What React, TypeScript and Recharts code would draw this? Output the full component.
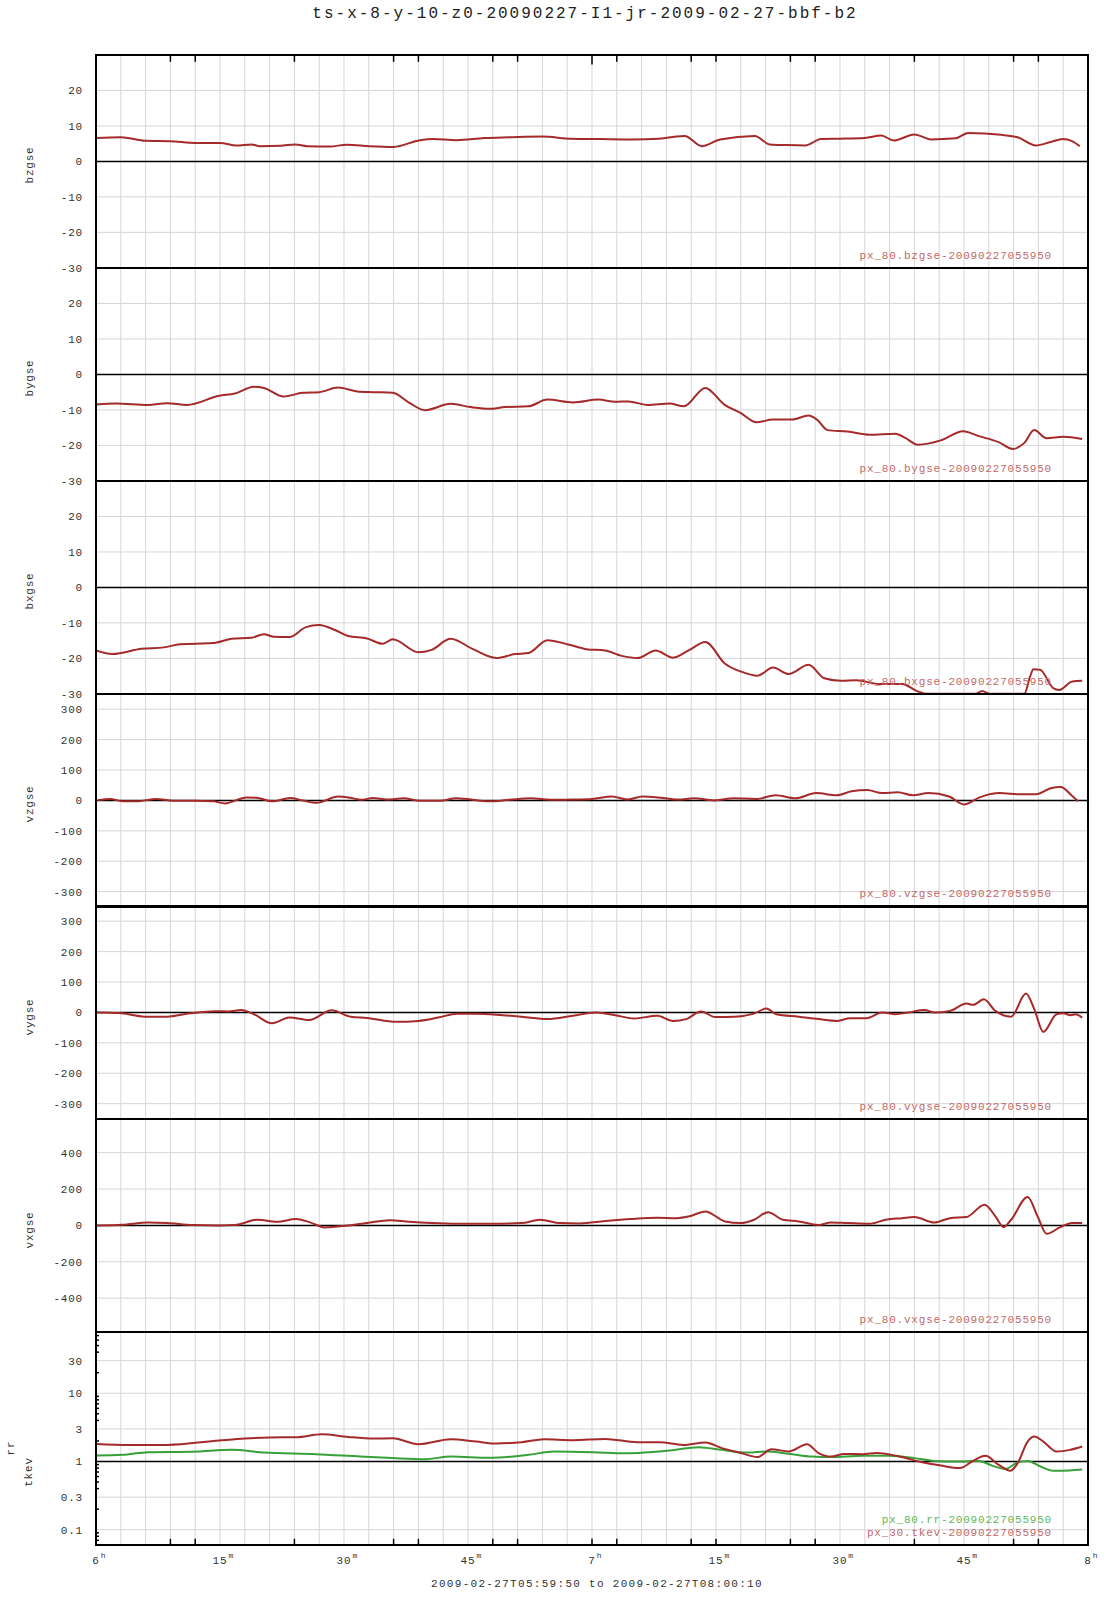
import { CartesianGrid, Line, LineChart, ReferenceLine, XAxis, YAxis } from "recharts";

const W = 1107;
const LEFT = 96;
const RIGHT = 1088;
const TOP = 55;
const BOTTOM = 1545;
const PANEL_H = (BOTTOM - TOP) / 7;
const PAD = 10;
const MONO = '"Liberation Mono", "DejaVu Sans Mono", monospace';
const RED = "#a52a2a";
const GREEN = "#38a038";
const RED_TXT = "#c06a6a";
const GREEN_TXT = "#5cb85c";
const GRID = "#d6d6d6";

// minutes after 06:00
const gridMinutes = Array.from({ length: 41 }, (_, i) => i * 3);
const edgeMinutes = [9, 12, 24, 36, 39, 48, 51, 60, 63, 72, 75, 84, 87, 99, 111, 114];
const timeLabels = [
  { m: 0, main: "6", sup: "h" },
  { m: 15, main: "15", sup: "m" },
  { m: 30, main: "30", sup: "m" },
  { m: 45, main: "45", sup: "m" },
  { m: 60, main: "7", sup: "h" },
  { m: 75, main: "15", sup: "m" },
  { m: 90, main: "30", sup: "m" },
  { m: 105, main: "45", sup: "m" },
  { m: 120, main: "8", sup: "h" },
];

const bzT = [0, 3, 6, 9, 12, 15, 17, 18.8, 19.8, 22.3, 24.1, 25.5, 28.3, 30.3, 33.1, 36, 39.2, 40.8, 43.6, 47, 50, 54, 57.5, 61, 65, 68, 69.8, 71.2, 73.3, 75.5, 79.7, 81.5, 83.5, 85.8, 87.7, 90, 93, 95, 96.5, 99, 101, 104, 105.5, 109.5, 111.5, 113.7, 115.5, 117, 118, 119];
const bzV = [6.6, 6.8, 5.8, 5.7, 5.2, 5.2, 4.5, 4.8, 4.3, 4.4, 4.8, 4.3, 4.2, 4.7, 4.3, 4.1, 6.0, 6.3, 6.0, 6.6, 6.8, 7.0, 6.4, 6.3, 6.2, 6.4, 6.9, 7.2, 4.3, 6.2, 7.2, 4.8, 4.6, 4.5, 6.3, 6.4, 6.6, 7.3, 5.9, 7.6, 6.2, 6.5, 8.0, 7.5, 6.8, 4.5, 5.5, 6.3, 5.8, 4.3];

const byT = [0, 2.4, 6.3, 8.6, 11, 14.9, 16.8, 19.1, 20.3, 22.7, 25, 27, 29.3, 31.6, 33.6, 35.9, 37.9, 39.8, 42.9, 45.3, 47.6, 49.5, 52.3, 54.6, 57.7, 60.8, 62.8, 64.4, 66.7, 69.4, 71.1, 73.7, 76, 78, 79.9, 81.9, 84.2, 86.2, 87.2, 88.5, 90.9, 93.6, 96.7, 97.9, 99.4, 102.2, 104.9, 106.8, 109.2, 110.9, 112.3, 113.5, 115, 117, 119.3];
const byV = [-8.5, -8.2, -8.6, -8.1, -8.6, -6.0, -5.4, -3.5, -3.8, -6.2, -5.2, -5.0, -3.7, -4.8, -5.0, -5.2, -8.0, -10.1, -8.3, -9.2, -9.7, -9.2, -9.0, -7.1, -7.9, -7.1, -7.7, -7.6, -8.6, -8.2, -9.0, -3.8, -8.5, -10.9, -13.5, -12.7, -12.7, -11.6, -12.7, -15.7, -16.1, -17.0, -16.7, -17.9, -19.8, -18.6, -16.0, -17.4, -19.1, -21.0, -19.3, -15.7, -18.0, -17.6, -18.2];

const bxT = [0, 2, 5.5, 8.2, 10.2, 14.1, 16.4, 18.8, 20.3, 21.5, 23.4, 25.4, 27, 28.9, 30.5, 32.8, 34.7, 35.9, 39, 40.6, 42.9, 45.6, 48.4, 50.7, 52.3, 54.6, 57, 59.3, 61.6, 63.6, 65.5, 67.7, 69.8, 71.8, 73.7, 76.1, 78, 80, 81.9, 83.8, 86.2, 88.1, 90.1, 92, 94.7, 97.5, 99.4, 100.6, 104, 106.4, 107.2, 108.1, 112.3, 113, 113.4, 114.2, 115.8, 116.5, 118.1, 119.3];
const bxV = [-17.8, -18.8, -17.3, -16.9, -16.0, -15.7, -14.5, -14.2, -13.2, -13.9, -14.0, -11.2, -10.6, -12.0, -13.7, -14.4, -15.9, -14.6, -18.3, -17.6, -14.5, -17.4, -19.9, -18.8, -18.5, -14.9, -16.0, -17.4, -17.8, -19.3, -19.9, -17.8, -19.8, -17.6, -15.4, -21.5, -23.7, -24.9, -22.6, -24.4, -21.8, -25.6, -26.3, -26.2, -27.2, -27.2, -29.3, -30, -30, -30, -29.2, -30, -30, -25.1, -23.1, -23.2, -28.4, -28.9, -26.5, -26.3];

const vzT = [0.2, 1.7, 3.3, 4.9, 7.3, 9.3, 11.8, 14.2, 15.6, 18.2, 19.4, 21.3, 23.5, 25, 26.7, 29.3, 30.7, 32.1, 33.5, 35.2, 37.2, 39.2, 41.6, 43.6, 47.6, 50, 52.6, 55, 57.5, 60, 62.4, 64.3, 66.1, 68.6, 70.5, 72.3, 74.8, 77.2, 80, 82.2, 84.6, 87.1, 89.6, 91.4, 93.3, 95.1, 97, 98.8, 100.7, 103.2, 105, 106.9, 109.3, 111.8, 113.7, 115.5, 116.7, 118, 118.8];
const vzV = [1, 5, -3, -3, 5, -1, -1, -3, -10, 10, 9, -3, 8, 0, -8, 13, 9, 2, 8, 3, 7, -1, -1, 7, -3, 2, 7, 2, 3, 5, 13, 3, 13, 8, 3, 7, 0, 7, 5, 17, 7, 24, 17, 30, 34, 24, 27, 17, 24, 13, -13, 10, 24, 20, 20, 40, 44, 17, -3];

const vyT = [0, 2.8, 5.9, 8.6, 11.4, 14.5, 16, 17.6, 19.1, 21.3, 23.4, 25.8, 28.5, 30.8, 32.8, 36.3, 39, 41.4, 43.7, 46, 49.2, 51.5, 54.6, 57.7, 60.5, 62.8, 65.1, 67.9, 69.8, 71.4, 73.2, 74.9, 77.2, 79.6, 81.1, 82.3, 85, 87.4, 89.7, 91.2, 93.2, 95.1, 96.7, 98.3, 100.2, 101.4, 103.3, 105.3, 106.1, 107.4, 108.8, 110.7, 112.5, 113.5, 114.6, 116.2, 117, 117.9, 118.5, 119.3];
const vyV = [0, -2, -14, -14, -3, 4, 3, 8, -6, -36, -17, -25, 7, -14, -18, -31, -28, -17, -4, -4, -9, -14, -22, -11, 0, -9, -20, -11, -28, -22, 3, -15, -14, -4, 13, -6, -14, -22, -28, -19, -19, 0, -6, 0, 8, 0, 5, 29, 25, 43, 5, -14, 62, 11, -64, -6, -3, -9, -6, -17];

const vxT = [0, 3.2, 6.3, 8.6, 11.7, 14.9, 16.8, 19.5, 21.9, 24.2, 25.8, 27.7, 30.5, 32.8, 35.5, 37.9, 40.6, 43.7, 47.6, 51.5, 53.7, 56.2, 58.5, 61.6, 64.7, 67.9, 70.2, 71.8, 73.7, 76.1, 78, 79.6, 81.3, 83.1, 85, 87.4, 88.9, 90.9, 93.6, 95.5, 97.5, 99, 101.4, 103.3, 105.3, 107.5, 108.8, 109.8, 110.7, 112.7, 113.9, 115, 116.6, 118.1, 119.3];
const vxV = [0, 4, 16, 13, 2, 0, 2, 31, 20, 35, 18, -11, 0, 13, 29, 20, 13, 9, 9, 13, 31, 13, 11, 24, 35, 42, 40, 50, 77, 22, 13, 31, 73, 31, 22, 2, 16, 13, 9, 31, 40, 46, 16, 40, 46, 114, 50, -9, 31, 156, 50, -46, -11, 13, 13];

const tkT = [0, 4, 8.6, 14.9, 18, 22.7, 24.2, 27.3, 30.5, 33.6, 35.9, 39, 42.9, 46, 48.4, 51.5, 54.2, 57.7, 61.6, 65.5, 68.2, 71, 73.7, 75.7, 78, 80, 81.7, 83.8, 86, 87.4, 88.9, 90.5, 92.8, 94.4, 97.5, 99.8, 102.2, 104.5, 106.1, 107.6, 109.2, 110.6, 111.5, 112.7, 113.5, 114.6, 116.2, 117.8, 119.3];
const tkV = [1.81, 1.75, 1.75, 2.03, 2.17, 2.27, 2.27, 2.51, 2.29, 2.17, 2.19, 1.79, 2.12, 1.96, 1.83, 1.92, 2.12, 2.05, 2.14, 1.92, 1.92, 1.75, 1.9, 1.57, 1.33, 1.16, 1.51, 1.4, 1.79, 1.33, 1.18, 1.29, 1.28, 1.33, 1.16, 0.98, 0.87, 0.8, 1.02, 1.21, 0.89, 0.73, 0.95, 1.96, 2.32, 1.96, 1.4, 1.48, 1.66];

const rrT = [0, 3.2, 6.3, 11.7, 16.4, 20.3, 26.6, 32, 35.9, 39.8, 42.9, 47.6, 52.3, 55.4, 60.1, 64, 69.4, 72.9, 75.7, 78.8, 81.1, 83.8, 86.6, 88.9, 92.8, 95.9, 99, 101.4, 104.5, 106.8, 108.4, 110, 111.5, 112.7, 114.2, 115.8, 117.8, 119.3];
const rrV = [1.22, 1.25, 1.37, 1.39, 1.48, 1.35, 1.28, 1.18, 1.12, 1.08, 1.18, 1.13, 1.25, 1.4, 1.37, 1.32, 1.45, 1.62, 1.48, 1.35, 1.4, 1.3, 1.18, 1.16, 1.21, 1.21, 1.12, 1.02, 1.0, 1.02, 0.87, 0.78, 0.97, 1.02, 0.85, 0.73, 0.74, 0.76];

const logMajor = [0.1, 0.3, 1, 3, 10, 30];
const logMinor = [0.07, 0.08, 0.09, 0.2, 0.4, 0.5, 0.6, 0.7, 0.8, 0.9, 2, 4, 5, 6, 7, 8, 9, 20, 40, 50, 60, 70];

const toRows = (t: number[], v: number[]) => t.map((x, i) => ({ t: x, v: v[i] }));

type Series = { t: number[]; v: number[]; color: string };
type Panel = {
  labels: string[];
  domain: [number, number];
  ticks: number[];
  zero: number;
  log?: boolean;
  series: Series[];
  legends: { text: string; color: string }[];
};

const panels: Panel[] = [
  { labels: ["bzgse"], domain: [-30, 30], ticks: [-30, -20, -10, 0, 10, 20], zero: 0, series: [{ t: bzT, v: bzV, color: RED }], legends: [{ text: "px_80.bzgse-20090227055950", color: RED_TXT }] },
  { labels: ["bygse"], domain: [-30, 30], ticks: [-30, -20, -10, 0, 10, 20], zero: 0, series: [{ t: byT, v: byV, color: RED }], legends: [{ text: "px_80.bygse-20090227055950", color: RED_TXT }] },
  { labels: ["bxgse"], domain: [-30, 30], ticks: [-30, -20, -10, 0, 10, 20], zero: 0, series: [{ t: bxT, v: bxV, color: RED }], legends: [{ text: "px_80.bxgse-20090227055950", color: RED_TXT }] },
  { labels: ["vzgse"], domain: [-350, 350], ticks: [-300, -200, -100, 0, 100, 200, 300], zero: 0, series: [{ t: vzT, v: vzV, color: RED }], legends: [{ text: "px_80.vzgse-20090227055950", color: RED_TXT }] },
  { labels: ["vygse"], domain: [-350, 350], ticks: [-300, -200, -100, 0, 100, 200, 300], zero: 0, series: [{ t: vyT, v: vyV, color: RED }], legends: [{ text: "px_80.vygse-20090227055950", color: RED_TXT }] },
  { labels: ["vxgse"], domain: [-585, 585], ticks: [-400, -200, 0, 200, 400], zero: 0, series: [{ t: vxT, v: vxV, color: RED }], legends: [{ text: "px_80.vxgse-20090227055950", color: RED_TXT }] },
  {
    labels: ["rr", "tkev"], domain: [0.06, 79], ticks: logMajor, zero: 1, log: true,
    series: [{ t: rrT, v: rrV, color: GREEN }, { t: tkT, v: tkV, color: RED }],
    legends: [{ text: "px_80.rr-20090227055950", color: GREEN_TXT }, { text: "px_30.tkev-20090227055950", color: RED_TXT }],
  },
];

const tickStyle = { fontFamily: MONO, fontSize: 11, fill: "#333", letterSpacing: 0.8 };

// bottom time labels plus the short marks along the bottom edge
function TimeTick(props: any) {
  const { x, payload } = props;
  const base = PAD + PANEL_H;
  const lab = timeLabels.find((l) => l.m === payload.value);
  const mark = edgeMinutes.includes(payload.value);
  const half = lab ? (lab.main.length * 7.4) / 2 : 0;
  return (
    <g>
      {mark && <line x1={x} x2={x} y1={base - 6} y2={base} stroke="#000" strokeWidth={1.5} />}
      {lab && <text x={x} y={base + 19} textAnchor="middle" {...tickStyle}>{lab.main}</text>}
      {lab && <text x={x + half + 1} y={base + 13} fontFamily={MONO} fontSize={8} fill="#333">{lab.sup}</text>}
    </g>
  );
}

function NoTick() {
  return <g />;
}

function LogTick(props: any) {
  const { x, y, payload } = props;
  if (logMajor.includes(payload.value)) {
    return <text x={x} y={y} dy={4} textAnchor="end" {...tickStyle}>{payload.value}</text>;
  }
  return <line x1={LEFT} x2={LEFT + 3} y1={y} y2={y} stroke="#000" strokeWidth={1.5} />;
}

function PanelChart({ p, last, first }: { p: Panel; last: boolean; first: boolean }) {
  const extra = last ? 40 : 0;
  const [lo, hi] = p.domain;
  return (
    <LineChart width={W} height={PANEL_H + 2 * PAD + extra} margin={{ top: PAD, right: W - RIGHT, bottom: PAD, left: LEFT - 60 }}>
      <CartesianGrid stroke={GRID} horizontal={!p.log} />
      <XAxis
        dataKey="t"
        type="number"
        domain={[0, 120]}
        allowDataOverflow
        ticks={gridMinutes}
        interval={0}
        height={extra}
        axisLine={false}
        tickLine={false}
        tick={last ? <TimeTick /> : <NoTick />}
      />
      <YAxis
        type="number"
        width={60}
        domain={p.domain}
        allowDataOverflow
        scale={p.log ? "log" : "auto"}
        ticks={p.log ? [...logMajor, ...logMinor] : p.ticks}
        interval={0}
        axisLine={false}
        tickLine={false}
        tickMargin={7}
        tick={p.log ? <LogTick /> : tickStyle}
      />
      {p.log && (
        <YAxis yAxisId="minorR" orientation="right" type="number" width={0} domain={p.domain} allowDataOverflow scale="log"
          ticks={[...logMajor, ...logMinor]} interval={0} mirror tick={false} axisLine={false} tickSize={3}
          tickLine={{ stroke: "#000", strokeWidth: 1.5 }} />
      )}
      {p.log && logMajor.filter((v) => v !== p.zero).map((v) => (
        <ReferenceLine key={v} y={v} stroke={GRID} strokeWidth={1} />
      ))}
      {first && edgeMinutes.map((m) => (
        <ReferenceLine key={"e" + m} segment={[{ x: m, y: hi }, { x: m, y: hi - (hi - lo) * (m === 60 ? 0.045 : 0.032) }]}
          stroke="#000" strokeWidth={1.5} />
      ))}
      <ReferenceLine y={p.zero} stroke="#000" strokeWidth={1.5} />
      {p.series.map((s, i) => (
        <Line key={i} data={toRows(s.t, s.v)} dataKey="v" type="monotone" stroke={s.color} strokeWidth={2}
          dot={false} isAnimationActive={false} />
      ))}
    </LineChart>
  );
}

export default function App() {
  return (
    <div style={{ position: "absolute", left: 0, top: 0, width: W, height: 1600, background: "#fff", fontFamily: MONO }}>
      <div style={{ position: "absolute", left: 0, top: 5, width: 1170, textAlign: "center", fontSize: 16, letterSpacing: 2.0, color: "#222" }}>
        ts-x-8-y-10-z0-20090227-I1-jr-2009-02-27-bbf-b2
      </div>
      {panels.map((p, i) => {
        const top = TOP + i * PANEL_H;
        const last = i === panels.length - 1;
        const mid = top + PANEL_H / 2 + 4;
        const sep = Math.round(top + PANEL_H);
        return (
          <div key={i}>
            <div style={{ position: "absolute", left: 0, top: top - PAD }}>
              <PanelChart p={p} last={last} first={i === 0} />
            </div>
            {p.labels.map((lab, j) => {
              const cx = p.labels.length > 1 ? (j === 0 ? 11 : 29) : 30;
              const cy = p.labels.length > 1 ? (j === 0 ? mid + 5 : mid + 29) : mid;
              return (
                <div key={lab} style={{ position: "absolute", left: cx - 40, top: cy - 7, width: 80, height: 14, lineHeight: "14px",
                  textAlign: "center", fontSize: 11, letterSpacing: 0.8, color: "#333", transform: "rotate(-90deg)" }}>
                  {lab}
                </div>
              );
            })}
            {p.legends.map((lg, j) => {
              const cy = top + PANEL_H - 12 - (p.legends.length - 1 - j) * 13;
              return (
                <div key={lg.text} style={{ position: "absolute", right: W - 1052, top: cy - 7, height: 14, lineHeight: "14px",
                  fontSize: 11, letterSpacing: 0.8, color: lg.color, whiteSpace: "nowrap" }}>
                  {lg.text}
                </div>
              );
            })}
            {!last && (
              <div style={{ position: "absolute", left: 95, top: sep - 1, width: RIGHT - 95,
                height: i === 3 ? 3 : 2, background: "#000", pointerEvents: "none", zIndex: 2 }} />
            )}
          </div>
        );
      })}
      <div style={{ position: "absolute", left: 95, top: TOP - 1, width: RIGHT - 95 + 1, height: BOTTOM - TOP + 2,
        border: "2px solid #000", boxSizing: "border-box", pointerEvents: "none", zIndex: 2 }} />
      <div style={{ position: "absolute", left: 0, top: 1578, width: 1194, textAlign: "center", fontSize: 11, letterSpacing: 1.3, color: "#333" }}>
        2009-02-27T05:59:50 to 2009-02-27T08:00:10
      </div>
    </div>
  );
}
